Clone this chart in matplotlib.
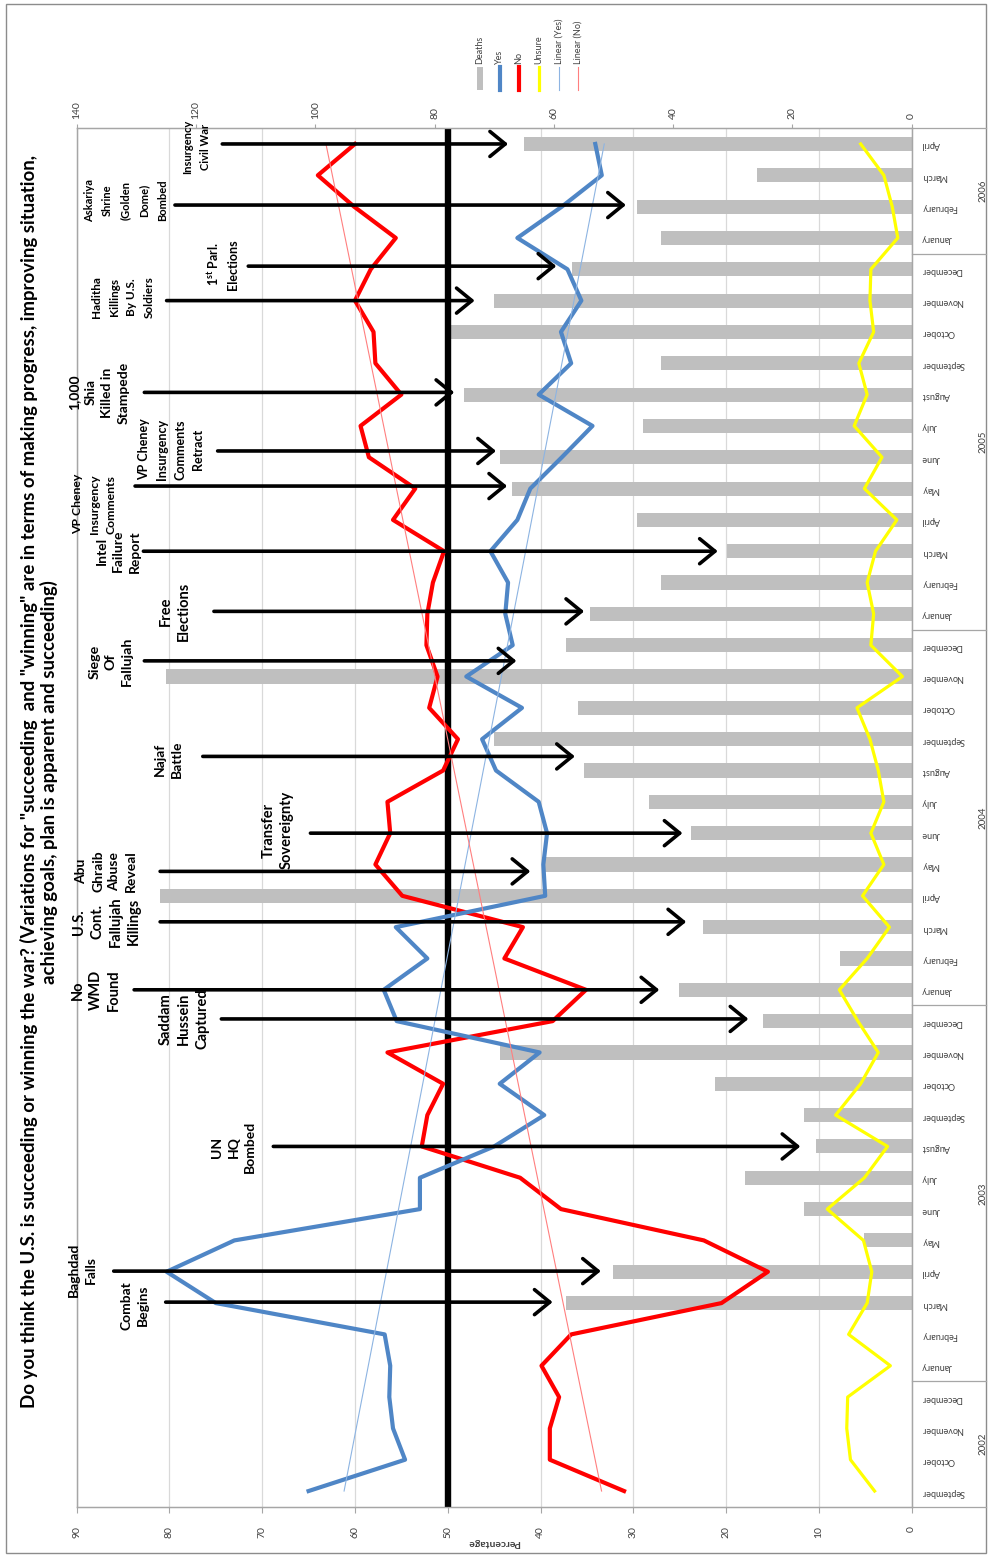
import matplotlib
matplotlib.use("Agg")
import matplotlib.pyplot as plt
import numpy as np
from matplotlib.transforms import blended_transform_factory
from matplotlib.patches import Rectangle
from matplotlib.lines import Line2D

plt.rcParams['font.family'] = ['Lato', 'DejaVu Sans']
plt.rcParams['mathtext.fontset'] = 'custom'
plt.rcParams['mathtext.bf'] = 'Lato:bold'
plt.rcParams['mathtext.rm'] = 'Lato'
plt.rcParams['mathtext.it'] = 'Lato:italic'

# ---------------- data ----------------
months = ["September", "October", "November", "December",
          "January", "February", "March", "April", "May", "June", "July", "August",
          "September", "October", "November", "December",
          "January", "February", "March", "April", "May", "June", "July", "August",
          "September", "October", "November", "December",
          "January", "February", "March", "April", "May", "June", "July", "August",
          "September", "October", "November", "December",
          "January", "February", "March", "April"]
years = ["2002", "2003", "2004", "2005", "2006"]
year_counts = [4, 12, 12, 12, 4]

yes = [65.0, 54.6, 55.9, 56.3, 56.2, 56.8, 75.0, 80.3, 73.0, 53.0, 53.0, 45.0,
       39.6, 44.4, 40.1, 55.5, 56.9, 52.2, 55.6, 39.5, 39.7, 39.3, 40.2, 44.8,
       46.3, 42.0, 48.0, 43.0, 43.8, 43.5, 45.4, 42.5, 41.1, 37.7, 34.4, 40.2,
       36.7, 37.8, 35.6, 37.1, 42.5, 37.7, 33.4, 34.1]
no = [31.0, 39.0, 39.0, 38.0, 39.9, 36.7, 20.5, 15.5, 22.4, 37.8, 42.2, 52.8,
      52.2, 50.5, 56.5, 38.7, 35.1, 43.9, 41.9, 54.9, 57.8, 56.2, 56.5, 50.5,
      48.9, 52.0, 51.1, 52.3, 52.2, 51.6, 50.4, 55.9, 53.5, 58.5, 59.4, 55.0,
      57.8, 58.0, 60.0, 58.3, 55.6, 60.1, 64.0, 60.0]
unsure = [4.0, 6.6, 7.0, 6.9, 2.3, 6.8, 4.8, 4.3, 5.2, 9.1, 5.1, 2.6,
          8.2, 5.5, 3.6, 5.8, 7.8, 4.8, 2.4, 5.3, 3.0, 4.4, 3.0, 3.6,
          4.5, 5.9, 1.0, 4.4, 4.1, 4.8, 3.9, 1.6, 5.1, 3.2, 6.2, 4.8,
          5.7, 4.1, 4.5, 4.4, 1.5, 2.1, 3.0, 5.5]
deaths = [0, 0, 0, 0, 0, 0, 58, 50, 8, 18, 28, 16,
          18, 33, 69, 25, 39, 12, 35, 126, 62, 37, 44, 55,
          70, 56, 125, 58, 54, 42, 31, 46, 67, 69, 45, 75,
          42, 78, 70, 57, 42, 46, 26, 65]

# events: label, month position, arrow tail (%), arrow tip (%), text centre (%), text month position
event_labels = ["Insurgency\nCivil War",
                "Askariya\nShrine\n(Golden\nDome)\nBombed",
                "1$^{\\mathbf{st}}$ Parl.\nElections",
                "Haditha\nKillings\nBy U.S.\nSoldiers",
                "1,000\nShia\nKilled in\nStampede",
                "VP Cheney\nInsurgency\nComments\nRetract",
                "VP Cheney\nInsurgency\nComments",
                "Intel\nFailure\nReport",
                "Free\nElections",
                "Siege\nOf\nFallujah",
                "Najaf\nBattle",
                "Transfer\nSovereignty",
                "Abu\nGhraib\nAbuse\nReveal",
                "U.S.\nCont.\nFallujah\nKillings",
                "No\nWMD\nFound",
                "Saddam\nHussein\nCaptured",
                "UN\nHQ\nBombed",
                "Baghdad\nFalls",
                "Combat\nBegins"]
event_month = [43.0, 41.05, 39.1, 38.0, 35.07, 33.2, 32.08, 30.0, 28.08, 26.5,
               23.45, 21.0, 19.78, 18.17, 16.0, 15.07, 11.0, 7.02, 6.03]
arrow_tail = [74.3, 79.4, 71.5, 80.3, 82.7, 74.8, 83.7, 82.8, 75.2, 82.7,
              76.4, 64.8, 81.0, 81.0, 83.8, 74.4, 68.8, 86.0, 80.4]
arrow_tip = [43.5, 30.8, 38.3, 47.1, 49.3, 44.8, 43.6, 20.9, 35.3, 42.6,
             36.3, 24.7, 41.1, 24.3, 27.2, 17.6, 12.0, 33.5, 38.7]
text_x = [77.1, 84.7, 74.3, 85.0, 87.6, 79.8, 88.1, 85.5, 79.4, 86.3,
          80.1, 68.3, 86.8, 86.8, 87.9, 78.4, 73.1, 89.4, 83.7]
text_month = [42.92, 41.2, 39.16, 38.11, 35.07, 33.25, 31.5, 30.0, 28.08, 26.48,
              23.35, 21.1, 19.78, 18.17, 16.0, 15.07, 10.98, 7.05, 5.93]
# text box font sizes (style)
event_fs = [8.0, 8.0, 9.0, 8.5, 10.0, 9.0, 8.8, 10.0, 10.5, 10.3,
            10.0, 10.5, 10.0, 10.5, 10.5, 10.5, 10.0, 10.0, 10.0]

title = ('Do you think the U.S. is succeeding or winning the war? (Variations for "succeeding  and '
         '"winning" are in terms of making progress, improving situation,\n'
         'achieving goals, plan is apparent and succeeding)')

pct_ticks = list(range(0, 91, 10))
death_ticks = list(range(0, 141, 20))

# ---------------- styles ----------------
C_YES = '#4F86C6'
C_NO = '#FF0000'
C_UNS = '#FFFF00'
C_BAR = '#BFBFBF'
C_TYES = '#8DB4E2'
C_TNO = '#FF7F7F'
C_GRID = '#D9D9D9'
C_AX = '#A6A6A6'
C_TXT = '#404040'

W, H = 990, 1557
fig = plt.figure(figsize=(W / 100, H / 100), dpi=100)
fig.patch.set_facecolor('white')


def fx(px):
    return px / W


def fy(py):
    return 1 - py / H


L, R, T, B = 76.6, 911.7, 128.3, 1506.7
ax_p = fig.add_axes([fx(L), fy(B), (R - L) / W, (B - T) / H])
ax_d = ax_p.twiny()
ax_d.set_zorder(0)
ax_p.set_zorder(1)
ax_p.patch.set_visible(False)
ax_d.patch.set_visible(False)

idx = np.arange(len(months))

# gridlines (percentage axis) drawn behind bars
gtrans = blended_transform_factory(ax_p.transData, ax_p.transAxes)
for v in pct_ticks:
    ax_d.plot([v, v], [0, 1], transform=gtrans, color=C_GRID, lw=0.9, zorder=0.5)

# deaths bars
ax_d.barh(idx, deaths, height=0.45, color=C_BAR, zorder=1)
ax_d.set_xlim(140, 0)

# percentage series
ax_p.set_xlim(90, 0)
ax_p.set_ylim(-0.5, len(months) - 0.5)
ax_p.axvline(50, color='black', lw=4.6, zorder=2)
ax_p.plot(unsure, idx, color=C_UNS, lw=2.3, solid_joinstyle='round', zorder=3)
ax_p.plot(no, idx, color=C_NO, lw=3.0, solid_joinstyle='round', zorder=3)
ax_p.plot(yes, idx, color=C_YES, lw=3.0, solid_joinstyle='round', zorder=3)

t = idx + 1
cy = np.polyfit(t, yes, 1)
cn = np.polyfit(t, no, 1)
ax_p.plot(np.polyval(cy, t), idx, color=C_TYES, lw=0.8, zorder=3.5)
ax_p.plot(np.polyval(cn, t), idx, color=C_TNO, lw=0.8, zorder=3.5)

# arrows and event labels
LINE_PX = 18.5
for lab, m, a0, a1, tx, tm, fs in zip(event_labels, event_month, arrow_tail, arrow_tip,
                                       text_x, text_month, event_fs):
    ax_p.annotate('', xy=(a1, m), xytext=(a0, m),
                  arrowprops=dict(arrowstyle='->,head_length=0.55,head_width=0.45',
                                  lw=2.6, color='black', shrinkA=0, shrinkB=0,
                                  mutation_scale=20),
                  zorder=5, annotation_clip=False)
    ls = LINE_PX / (fs * 100 / 72 * 0.92)
    ax_p.text(tx, tm, lab, rotation=90, ha='center', va='center', fontsize=fs,
              fontweight='bold', linespacing=ls, multialignment='center',
              color='black', zorder=6, clip_on=False)

# axes styling
for ax in (ax_p, ax_d):
    for s in ax.spines.values():
        s.set_color(C_AX)
        s.set_linewidth(0.9)

ax_p.set_xticks(pct_ticks)
ax_p.set_xticklabels([str(v) for v in pct_ticks])
ax_p.tick_params(axis='x', bottom=True, top=False, length=4, color=C_AX, width=0.8,
                 labelsize=7.5, labelcolor=C_TXT, labelrotation=90, pad=10)

ax_d.set_xticks(death_ticks)
ax_d.set_xticklabels([str(v) for v in death_ticks])
ax_d.tick_params(axis='x', top=True, bottom=False, length=3, color=C_AX, width=0.8,
                 labelsize=7.5, labelcolor=C_TXT, labelrotation=90, pad=4)

ax_p.yaxis.tick_right()
ax_p.set_yticks(idx)
ax_p.set_yticklabels(months)
ax_p.tick_params(axis='y', right=False, left=False, length=0, labelsize=6.5,
                 labelcolor=C_TXT, labelrotation=180, pad=7)

# year groups on the category axis
ytrans = blended_transform_factory(ax_p.transAxes, ax_p.transData)
x_end = (986 - L) / (R - L)
bounds = np.concatenate([[0], np.cumsum(year_counts)]) - 0.5
for b in bounds:
    ax_p.plot([1.0, x_end], [b, b], transform=ytrans, color=C_AX, lw=0.9,
              clip_on=False, zorder=1)
x_year = (983 - L) / (R - L)
for yr, b0, b1 in zip(years, bounds[:-1], bounds[1:]):
    ax_p.text(x_year, (b0 + b1) / 2, yr, transform=ytrans, rotation=90,
              ha='center', va='center', fontsize=7, color=C_TXT, clip_on=False)

# axis title
fig.text(fx(494), fy(1542), 'Percentage', rotation=180, ha='center', va='center',
         fontsize=7.5, fontweight='bold', color=C_TXT)

# chart title
fig.text(fx(39), fy(782), title, rotation=90, ha='center', va='center', fontsize=13.4,
         fontweight='bold', color='black', multialignment='center', linespacing=1.1)

# legend (manual, rotated)
leg_names = ['Deaths', 'Yes', 'No', 'Unsure', 'Linear (Yes)', 'Linear (No)']
leg_x = [480, 499.6, 519, 538.9, 558.6, 578]
leg_style = [(C_BAR, None), (C_YES, 3.0), (C_NO, 3.0), (C_UNS, 2.3), (C_TYES, 0.8), (C_TNO, 0.8)]
for name, x, (c, lw) in zip(leg_names, leg_x, leg_style):
    if lw is None:
        fig.add_artist(Rectangle((fx(x - 3), fy(90)), 6 / W, 23 / H,
                                 transform=fig.transFigure, color=c, lw=0))
    else:
        fig.add_artist(Line2D([fx(x), fx(x)], [fy(90), fy(67)],
                              transform=fig.transFigure, color=c, lw=lw))
    fig.text(fx(x), fy(64), name, rotation=90, ha='center', va='bottom',
             fontsize=6.5, color=C_TXT)

# outer chart frame
fig.add_artist(Rectangle((fx(6), fy(1553)), fx(986) - fx(6), fy(4) - fy(1553),
                         transform=fig.transFigure, fill=False, edgecolor='#8C8C8C', lw=1))

fig.savefig('out.png', dpi=100)
